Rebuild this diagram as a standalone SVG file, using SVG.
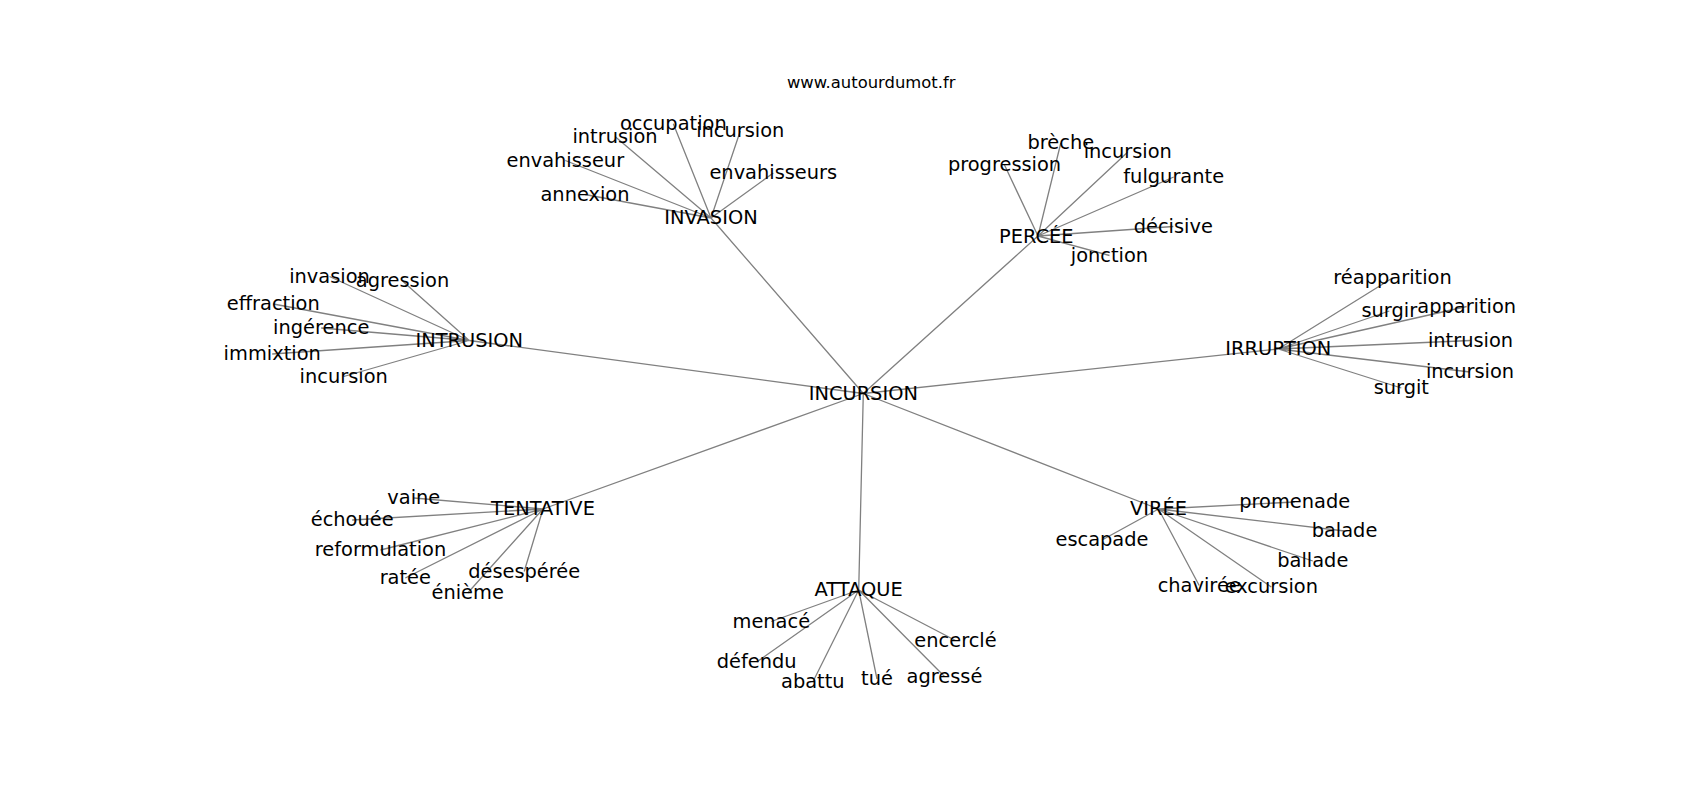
<svg xmlns="http://www.w3.org/2000/svg" width="1700" height="800" viewBox="0 0 1700 800">
<style>
.e{stroke:#808080;stroke-width:1.3;fill:none}
text{font-family:"DejaVu Sans",sans-serif;font-size:19.4px;fill:#000;text-anchor:middle}
.t{font-size:16.4px}
</style>
<rect width="1700" height="800" fill="#fff"/>
<g id="connectors">
<path class="e" d="M863.3,393.5L711,218M863.3,393.5L1038,236M863.3,393.5L469.2,340.5M863.3,393.5L1278.3,349M863.3,393.5L543,509M863.3,393.5L858.7,590M863.3,393.5L1158.5,509"/>
<path class="e" d="M711,218L673.3,123.8M711,218L615,136.5M711,218L740.3,131M711,218L565.3,160.5M711,218L773.3,173M711,218L585,194.5"/>
<path class="e" d="M1038,236L1060.8,143M1038,236L1127.8,152M1038,236L1004.5,165M1038,236L1173.7,177M1038,236L1173.3,226.5M1038,236L1109.5,255.5"/>
<path class="e" d="M469.2,340.5L329.5,276.5M469.2,340.5L402.5,281M469.2,340.5L273.3,304M469.2,340.5L321.2,328M469.2,340.5L272.2,354M469.2,340.5L343.7,376.5"/>
<path class="e" d="M1278.3,349L1392.5,278M1278.3,349L1389.3,311M1278.3,349L1466.7,306.5M1278.3,349L1470.5,340.5M1278.3,349L1470,372M1278.3,349L1401.3,388"/>
<path class="e" d="M543,509L413.8,498M543,509L352.2,520M543,509L380.5,550M543,509L405.3,578M543,509L524.2,571.5M543,509L467.7,593"/>
<path class="e" d="M858.7,590L771.3,621.5M858.7,590L955.5,640.5M858.7,590L756.7,662M858.7,590L812.8,682M858.7,590L877,679M858.7,590L944.5,676.5"/>
<path class="e" d="M1158.5,509L1294.7,502M1158.5,509L1344.5,531M1158.5,509L1102,540M1158.5,509L1312.8,561M1158.5,509L1199.2,585.5M1158.5,509L1271.3,587"/>
</g>
<text class="t" x="871.2" y="88.3">www.autourdumot.fr</text>
<g id="n-incursion"><text x="863.3" y="400">INCURSION</text></g>
<g id="n-invasion"><text x="711" y="224.3">INVASION</text></g>
<g id="n-invasion-occupation"><text x="673.3" y="130">occupation</text></g>
<g id="n-invasion-intrusion"><text x="615" y="142.7">intrusion</text></g>
<g id="n-invasion-incursion"><text x="740.3" y="137.3">incursion</text></g>
<g id="n-invasion-envahisseur"><text x="565.3" y="166.7">envahisseur</text></g>
<g id="n-invasion-envahisseurs"><text x="773.3" y="179.3">envahisseurs</text></g>
<g id="n-invasion-annexion"><text x="585" y="201">annexion</text></g>
<g id="n-percee"><text x="1036.3" y="242.7">PERCÉE</text></g>
<g id="n-percee-breche"><text x="1060.8" y="149.3">brèche</text></g>
<g id="n-percee-incursion"><text x="1127.8" y="158.3">incursion</text></g>
<g id="n-percee-progression"><text x="1004.5" y="171">progression</text></g>
<g id="n-percee-fulgurante"><text x="1173.7" y="183.3">fulgurante</text></g>
<g id="n-percee-decisive"><text x="1173.3" y="232.7">décisive</text></g>
<g id="n-percee-jonction"><text x="1109.5" y="261.7">jonction</text></g>
<g id="n-intrusion"><text x="469.2" y="346.7">INTRUSION</text></g>
<g id="n-intrusion-invasion"><text x="329.5" y="282.7">invasion</text></g>
<g id="n-intrusion-agression"><text x="402.5" y="287.3">agression</text></g>
<g id="n-intrusion-effraction"><text x="273.3" y="310">effraction</text></g>
<g id="n-intrusion-ingerence"><text x="321.2" y="334">ingérence</text></g>
<g id="n-intrusion-immixtion"><text x="272.2" y="360">immixtion</text></g>
<g id="n-intrusion-incursion"><text x="343.7" y="382.7">incursion</text></g>
<g id="n-irruption"><text x="1278.3" y="355">IRRUPTION</text></g>
<g id="n-irruption-reapparition"><text x="1392.5" y="284">réapparition</text></g>
<g id="n-irruption-surgir"><text x="1389.3" y="317.3">surgir</text></g>
<g id="n-irruption-apparition"><text x="1466.7" y="312.7">apparition</text></g>
<g id="n-irruption-intrusion"><text x="1470.5" y="346.7">intrusion</text></g>
<g id="n-irruption-incursion"><text x="1470" y="378.3">incursion</text></g>
<g id="n-irruption-surgit"><text x="1401.3" y="394">surgit</text></g>
<g id="n-tentative"><text x="543" y="515">TENTATIVE</text></g>
<g id="n-tentative-vaine"><text x="413.8" y="504">vaine</text></g>
<g id="n-tentative-echouee"><text x="352.2" y="526">échouée</text></g>
<g id="n-tentative-reformulation"><text x="380.5" y="556">reformulation</text></g>
<g id="n-tentative-ratee"><text x="405.3" y="584">ratée</text></g>
<g id="n-tentative-desesperee"><text x="524.2" y="577.7">désespérée</text></g>
<g id="n-tentative-enieme"><text x="467.7" y="599.3">énième</text></g>
<g id="n-attaque"><text x="858.7" y="596">ATTAQUE</text></g>
<g id="n-attaque-menace"><text x="771.3" y="627.7">menacé</text></g>
<g id="n-attaque-encercle"><text x="955.5" y="646.7">encerclé</text></g>
<g id="n-attaque-defendu"><text x="756.7" y="668.3">défendu</text></g>
<g id="n-attaque-abattu"><text x="812.8" y="688.3">abattu</text></g>
<g id="n-attaque-tue"><text x="877" y="685">tué</text></g>
<g id="n-attaque-agresse"><text x="944.5" y="682.7">agressé</text></g>
<g id="n-viree"><text x="1158.5" y="515">VIRÉE</text></g>
<g id="n-viree-promenade"><text x="1294.7" y="508.3">promenade</text></g>
<g id="n-viree-balade"><text x="1344.5" y="537.3">balade</text></g>
<g id="n-viree-escapade"><text x="1102" y="546">escapade</text></g>
<g id="n-viree-ballade"><text x="1312.8" y="567.3">ballade</text></g>
<g id="n-viree-chaviree"><text x="1199.2" y="591.7">chavirée</text></g>
<g id="n-viree-excursion"><text x="1271.3" y="593.3">excursion</text></g>
</svg>
